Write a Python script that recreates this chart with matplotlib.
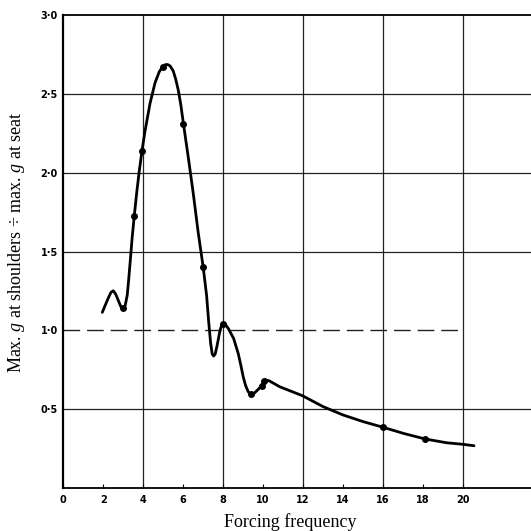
import matplotlib
matplotlib.use("Agg")
import matplotlib.pyplot as plt

plt.rcParams["mathtext.fontset"] = "custom"
plt.rcParams["mathtext.rm"] = "Liberation Serif"
plt.rcParams["mathtext.it"] = "Liberation Serif:italic"

# Traced response curve (forcing frequency, ratio)
curve_x = [1.95, 2.10, 2.25, 2.38, 2.50, 2.62, 2.75, 2.88, 3.00, 3.10, 3.20, 3.27, 3.34,
           3.45, 3.55, 3.67, 3.80, 3.95, 4.09, 4.34, 4.59, 4.80, 4.97, 5.10, 5.22, 5.35,
           5.50, 5.62, 5.75, 5.88, 6.00, 6.25, 6.50, 6.75, 7.00, 7.17, 7.27, 7.37, 7.45,
           7.52, 7.60, 7.69, 7.84, 7.93, 8.02, 8.12, 8.25, 8.52, 8.75, 8.88, 9.00, 9.12,
           9.25, 9.39, 9.52, 9.67, 9.82, 9.92, 10.02, 10.10, 10.30, 10.83, 11.97, 13.0,
           14.0, 15.0, 16.0, 17.0, 18.1, 19.17, 20.0, 20.55]
curve_y = [1.114, 1.160, 1.205, 1.240, 1.251, 1.230, 1.190, 1.150, 1.139, 1.160, 1.224, 1.320,
           1.425, 1.594, 1.725, 1.870, 2.010, 2.150, 2.265, 2.440, 2.570, 2.640, 2.672, 2.685,
           2.686, 2.676, 2.645, 2.595, 2.525, 2.430, 2.320, 2.100, 1.870, 1.620, 1.400, 1.220,
           1.060, 0.920, 0.850, 0.837, 0.850, 0.900, 1.000, 1.035, 1.042, 1.035, 1.013, 0.949,
           0.854, 0.780, 0.706, 0.650, 0.611, 0.592, 0.598, 0.615, 0.635, 0.648, 0.672, 0.686,
           0.680, 0.642, 0.585, 0.516, 0.463, 0.421, 0.385, 0.347, 0.311, 0.287, 0.277, 0.268]

# Measured points (dots)
pts_x = [3.00, 3.55, 3.95, 4.97, 6.00, 7.00, 8.00, 9.40, 9.92, 10.05, 16.0, 18.1]
pts_y = [1.139, 1.725, 2.140, 2.668, 2.308, 1.403, 1.040, 0.595, 0.648, 0.676, 0.385, 0.311]

ref_level = 1.0
x_ticks = [0, 2, 4, 6, 8, 10, 12, 14, 16, 18, 20]
x_tick_labels = ["0", "2", "4", "6", "8", "10", "12", "14", "16", "18", "20"]
y_ticks = [0.5, 1.0, 1.5, 2.0, 2.5, 3.0]
y_tick_labels = ["0·5", "1·0", "1·5", "2·0", "2·5", "3·0"]
grid_x = [4, 8, 12, 16, 20]
grid_y = [0.5, 1.5, 2.0, 2.5]

fig = plt.figure(figsize=(5.31, 5.31), dpi=100)
ax = fig.add_axes([63.3 / 531, 43 / 531, 1 - 63.3 / 531, 473 / 531])
ax.set_xlim(0, 23.4)
ax.set_ylim(0, 3.0)

for gx in grid_x:
    ax.plot([gx, gx], [0, 3.0], color="#222222", lw=0.9, zorder=1)
for gy in grid_y:
    ax.axhline(gy, color="#222222", lw=0.9, zorder=1)
ax.plot([0, 20], [ref_level, ref_level], color="#222222", lw=1.0,
        dashes=(12, 5), zorder=1)

ax.plot(curve_x, curve_y, color="black", lw=2.0, solid_capstyle="round",
        solid_joinstyle="round", zorder=3)
ax.plot(pts_x, pts_y, "o", color="black", ms=4, zorder=4)

ax.spines["right"].set_visible(False)
ax.spines["left"].set_linewidth(1.6)
ax.spines["bottom"].set_linewidth(1.3)
ax.spines["top"].set_linewidth(1.3)

ax.set_xticks(x_ticks)
ax.set_xticklabels(x_tick_labels, fontsize=7, fontweight="bold", family="DejaVu Sans")
ax.set_yticks(y_ticks)
ax.set_yticklabels(y_tick_labels, fontsize=7, fontweight="bold", family="DejaVu Sans")
ax.tick_params(axis="x", direction="in", length=3, width=0.8, pad=5)
ax.tick_params(axis="y", length=0, pad=4)

fig.text(290 / 531, 1 - 522 / 531, "Forcing frequency", ha="center", va="center",
         fontsize=13, family="Liberation Serif")
fig.text(17 / 531, 1 - 242 / 531,
         "Max. $\\mathit{g}$ at shoulders ÷ max. $\\mathit{g}$ at seat",
         ha="center", va="center", rotation=90, fontsize=13, family="Liberation Serif")

fig.savefig("out.png", dpi=100)
